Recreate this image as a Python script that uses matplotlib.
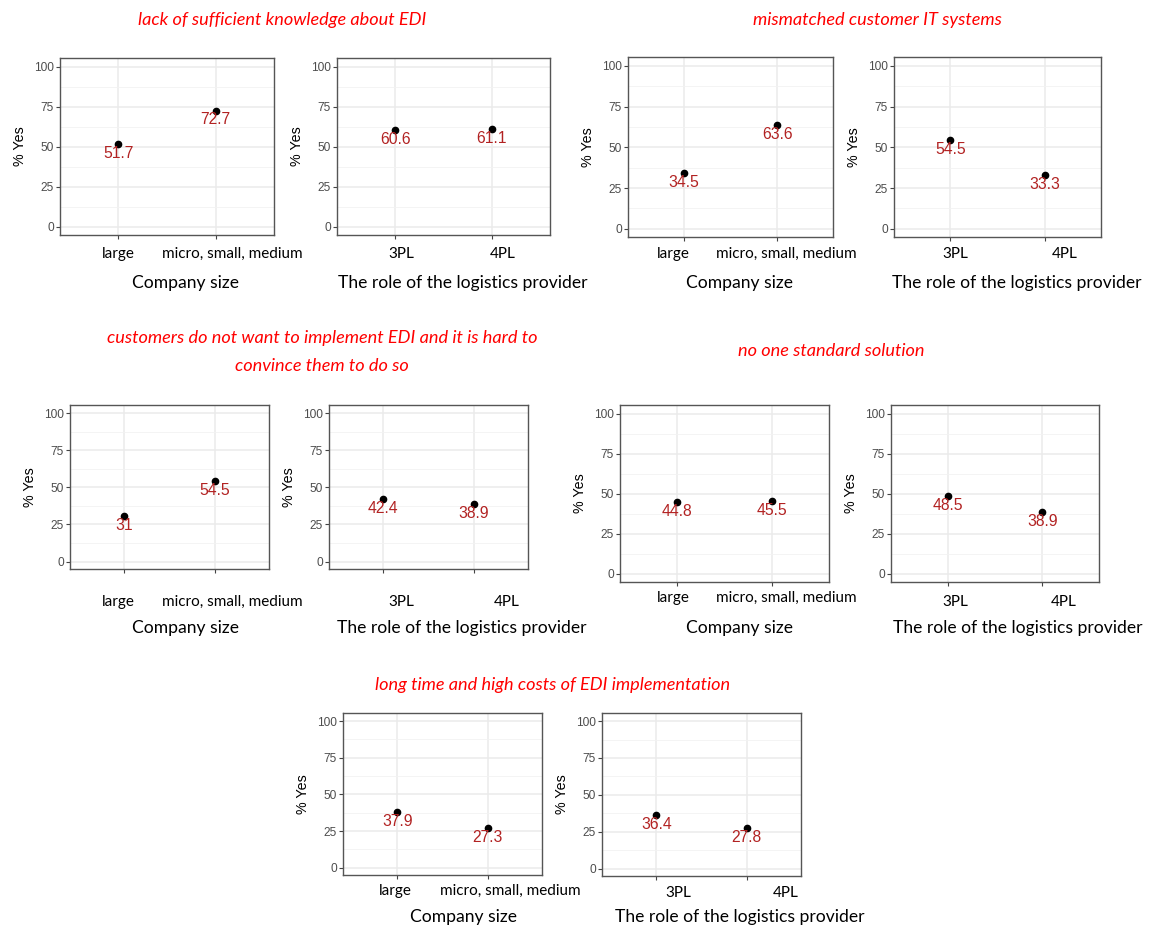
import matplotlib
matplotlib.use("Agg")
import matplotlib.pyplot as plt

W, H = 1153, 927

barriers = [
    "lack of sufficient knowledge about EDI",
    "mismatched customer IT systems",
    "customers do not want to implement EDI and it is hard to\nconvince them to do so",
    "no one standard solution",
    "long time and high costs of EDI implementation",
]
size_groups = ["large", "micro, small, medium"]
role_groups = ["3PL", "4PL"]

# % of "Yes" answers per barrier, split by company size and by provider role
size_yes = [
    [51.7, 72.7],
    [34.5, 63.6],
    [31, 54.5],
    [44.8, 45.5],
    [37.9, 27.3],
]
role_yes = [
    [60.6, 61.1],
    [54.5, 33.3],
    [42.4, 38.9],
    [48.5, 38.9],
    [36.4, 27.8],
]

# pixel layout: (left, top, right, bottom), tick label centres, tick label y, xlabel centre
size_boxes = [
    ((60, 58, 274, 235), (118, 232), 254, (185, 283)),
    ((628, 57, 833, 237), (673, 786), 254, (740, 283)),
    ((70, 405, 269, 569), (118, 232), 602, (185, 628)),
    ((620, 405, 829, 582), (673, 786), 598, (740, 628)),
    ((343, 713, 542, 875), (395, 510), 891, (463, 917)),
]
role_boxes = [
    ((337, 58, 550, 235), (401, 503), 254, (463, 283)),
    ((894, 57, 1101, 237), (955, 1065), 254, (1017, 283)),
    ((329, 405, 528, 569), (401, 507), 602, (462, 628)),
    ((891, 405, 1099, 582), (955, 1064), 602, (1018, 628)),
    ((602, 713, 801, 876), (678, 786), 893, (740, 917)),
]
title_pos = [(282, 20), (877, 20), (322, 352), (831, 351), (553, 685)]

CAL = ["Lato", "DejaVu Sans"]
ARIAL = ["Liberation Sans", "DejaVu Sans"]

fig = plt.figure(figsize=(W / 100, H / 100), dpi=100)


def fx(x, y):
    return x / W, 1 - y / H


def panel(box, groups, values, xlabel):
    (l, t, r, b), tick_x, tick_y, (lx, ly) = box
    ax = fig.add_axes([l / W, 1 - b / H, (r - l) / W, (b - t) / H])
    pos = [1, 2]
    ax.set_xlim(0.4, 2.6)
    ax.set_ylim(-5, 105.5)
    ax.set_yticks([0, 25, 50, 75, 100])
    ax.set_yticks([12.5, 37.5, 62.5, 87.5], minor=True)
    ax.set_xticks(pos)
    ax.set_xticklabels([])
    ax.grid(True, which="major", color="#EBEBEB", lw=1.1)
    ax.grid(True, which="minor", axis="y", color="#F2F2F2", lw=0.6)
    ax.set_axisbelow(True)
    for s in ax.spines.values():
        s.set_color("#555555")
        s.set_linewidth(1.0)
    ax.tick_params(axis="both", which="major", length=3, width=0.8,
                   color="#444444", pad=1.5)
    ax.tick_params(axis="y", which="minor", length=0)
    ax.tick_params(axis="y", labelsize=8.6, labelcolor="#4D4D4D")
    for lab in ax.get_yticklabels():
        lab.set_family(ARIAL)

    ax.plot(pos, values, "o", color="black", ms=4.5, ls="none", zorder=3)
    for xp, v in zip(pos, values):
        ax.annotate(f"{v:g}", (xp, v), xytext=(0, -6.8), textcoords="offset points",
                    ha="center", va="center", color="#B22222", fontsize=11.3,
                    family=ARIAL, zorder=4)

    ax.text(-40 / (r - l), 0.5, "% Yes", transform=ax.transAxes, rotation=90,
            ha="center", va="center", fontsize=10.3, family=ARIAL)

    for g, x in zip(groups, tick_x):
        fig.text(*fx(x, tick_y), g, ha="center", va="center",
                 fontsize=11.0, family=CAL)
    fig.text(*fx(lx, ly), xlabel, ha="center", va="center",
             fontsize=12.6, family=CAL)
    return ax


for i in range(len(barriers)):
    panel(size_boxes[i], size_groups, size_yes[i], "Company size")
    panel(role_boxes[i], role_groups, role_yes[i], "The role of the logistics provider")
    fig.text(*fx(*title_pos[i]), barriers[i], ha="center", va="center",
             color="#FF0000", fontsize=13.1, style="italic", family=CAL,
             linespacing=1.85)

fig.savefig("out.png", dpi=100)
